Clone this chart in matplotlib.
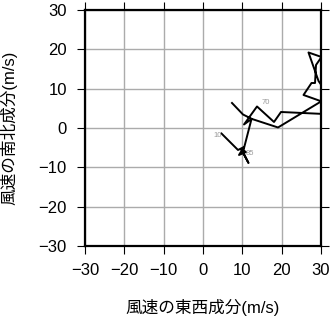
import matplotlib
matplotlib.use('Agg')
import matplotlib.pyplot as plt

plt.rcParams['font.family'] = ['Liberation Sans', 'Noto Sans CJK JP', 'DejaVu Sans']

# hodograph: wind components (m/s)
u = [4.70, 8.90, 10.42, 9.15, 10.93, 9.66, 11.57, 10.17, 12.33, 10.42, 13.73,
     18.05, 19.83, 33.6, 30.2, 25.55, 27.59, 28.48, 28.73, 30.13, 26.82, 29.37,
     31.3, 30.0, 19.07, 12.46, 10.17, 7.37]
v = [-1.40, -5.59, -4.83, -6.86, -6.10, -5.34, -8.90, -6.10, 2.29, 0.89, 5.47,
     1.53, 4.07, 3.43, 6.74, 8.39, 11.44, 11.44, 16.02, 18.05, 19.20, 11.95,
     9.15, 6.74, 0.13, 2.29, 3.43, 6.36]

lev_names = ['10', '85', '70']
lev_u = [3.81, 11.95, 15.84]
lev_v = [-1.91, -6.43, 6.56]

ticks = [-30, -20, -10, 0, 10, 20, 30]

fig = plt.figure(figsize=(3.31, 3.18), dpi=100)
ax = fig.add_axes([0.2568, 0.2264, 0.713, 0.7422])

ax.plot(u, v, color='black', lw=1.4, zorder=3)
for name, x, y in zip(lev_names, lev_u, lev_v):
    ax.text(x, y, name, fontsize=5.5, color='#999999', ha='center', va='center', zorder=4)

ax.set_xlim(-30, 30)
ax.set_ylim(-30, 30)
ax.set_xticks(ticks)
ax.set_yticks(ticks)
ax.set_xticklabels(['\u2212%d' % -t if t < 0 else str(t) for t in ticks])
ax.set_yticklabels(['\u2212%d' % -t if t < 0 else str(t) for t in ticks])
ax.grid(True, color='#ababab', lw=1.0)
ax.set_axisbelow(True)
ax.tick_params(direction='out', length=6, width=0.8, labelsize=12,
               top=True, right=True)
ax.tick_params(axis='x', pad=6)
ax.tick_params(axis='y', pad=7)
for s in ax.spines.values():
    s.set_linewidth(1.6)

ax.set_xlabel('風速の東西成分(m/s)', fontsize=12, labelpad=15.5)
ax.set_ylabel('風速の南北成分(m/s)', fontsize=12, labelpad=15)

fig.savefig('out.png', dpi=100)
